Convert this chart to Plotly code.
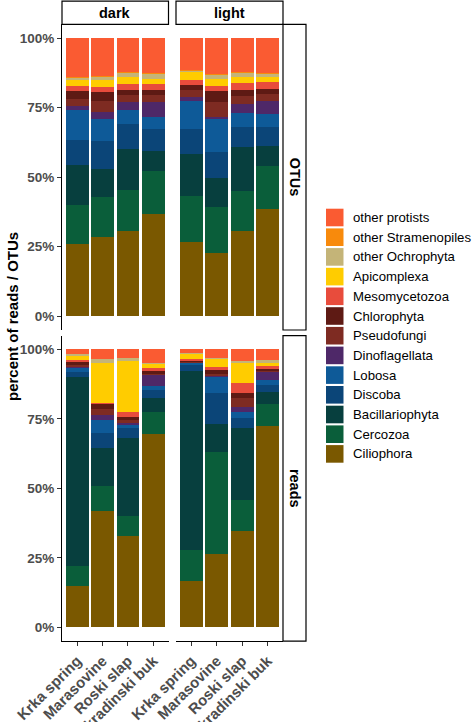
import plotly.graph_objects as go

W, H = 474, 722

sites = ["Krka spring", "Marasovine", "Roski slap", "Skradinski buk"]
conditions = ["dark", "light"]
measures = ["OTUs", "reads"]

# stacking order, bottom -> top
taxa = ["Ciliophora", "Cercozoa", "Bacillariophyta", "Discoba", "Lobosa",
        "Dinoflagellata", "Pseudofungi", "Chlorophyta", "Mesomycetozoa",
        "Apicomplexa", "other Ochrophyta", "other Stramenopiles", "other protists"]

colors = {
    "other protists": "#FA5B32",
    "other Stramenopiles": "#F88A0C",
    "other Ochrophyta": "#C4B478",
    "Apicomplexa": "#FFCC00",
    "Mesomycetozoa": "#E84C3C",
    "Chlorophyta": "#5E1A14",
    "Pseudofungi": "#7E2B22",
    "Dinoflagellata": "#4E2868",
    "Lobosa": "#0E5A98",
    "Discoba": "#0B4578",
    "Bacillariophyta": "#073F3E",
    "Cercozoa": "#0A5E3A",
    "Ciliophora": "#7A5800",
}

otus_dark = {
    "Ciliophora": [25.8, 28.3, 30.6, 36.6],
    "Cercozoa": [14.1, 14.6, 14.7, 15.6],
    "Bacillariophyta": [14.4, 10.2, 14.8, 7.3],
    "Discoba": [9.0, 10.0, 9.2, 7.8],
    "Lobosa": [10.8, 8.0, 4.8, 4.2],
    "Dinoflagellata": [1.4, 2.4, 3.0, 5.6],
    "Pseudofungi": [2.8, 4.0, 2.4, 2.4],
    "Chlorophyta": [2.6, 3.2, 1.8, 1.8],
    "Mesomycetozoa": [1.8, 1.6, 2.4, 2.4],
    "Apicomplexa": [2.2, 2.6, 2.4, 1.6],
    "other Ochrophyta": [1.0, 1.2, 1.4, 2.0],
    "other Stramenopiles": [0.3, 0.3, 0.3, 0.3],
    "other protists": [13.8, 13.6, 12.2, 12.4],
}
otus_light = {
    "Ciliophora": [26.5, 22.8, 30.7, 38.5],
    "Cercozoa": [16.8, 16.5, 14.3, 15.5],
    "Bacillariophyta": [15.2, 10.5, 15.7, 7.3],
    "Discoba": [8.8, 9.3, 7.2, 6.8],
    "Lobosa": [10.0, 12.0, 5.2, 4.6],
    "Dinoflagellata": [1.6, 0.6, 3.2, 4.8],
    "Pseudofungi": [2.6, 5.4, 3.1, 2.6],
    "Chlorophyta": [1.8, 3.9, 1.9, 1.8],
    "Mesomycetozoa": [1.6, 1.7, 2.6, 2.4],
    "Apicomplexa": [3.0, 2.8, 2.2, 1.8],
    "other Ochrophyta": [0.3, 1.2, 1.4, 1.2],
    "other Stramenopiles": [0.3, 0.3, 0.3, 0.3],
    "other protists": [11.5, 13.0, 12.2, 12.4],
}
reads_dark = {
    "Ciliophora": [15.0, 41.8, 33.0, 69.5],
    "Cercozoa": [7.2, 9.0, 7.1, 8.1],
    "Bacillariophyta": [67.9, 13.6, 28.2, 4.8],
    "Discoba": [1.8, 5.4, 3.6, 3.0],
    "Lobosa": [1.8, 5.0, 0.9, 1.5],
    "Dinoflagellata": [0.2, 1.6, 0.8, 3.9],
    "Pseudofungi": [0.6, 2.1, 1.2, 0.8],
    "Chlorophyta": [1.2, 2.3, 1.0, 0.7],
    "Mesomycetozoa": [0.6, 0.1, 1.8, 1.2],
    "Apicomplexa": [1.8, 14.2, 18.6, 1.5],
    "other Ochrophyta": [0.1, 1.4, 0.6, 0.3],
    "other Stramenopiles": [0.0, 0.0, 0.0, 0.0],
    "other protists": [1.8, 3.5, 3.2, 4.7],
}
reads_light = {
    "Ciliophora": [16.8, 26.3, 34.8, 72.4],
    "Cercozoa": [11.0, 36.9, 11.2, 7.9],
    "Bacillariophyta": [64.5, 9.9, 25.9, 4.4],
    "Discoba": [2.1, 11.1, 3.3, 2.5],
    "Lobosa": [1.1, 6.2, 2.4, 2.0],
    "Dinoflagellata": [0.1, 0.3, 1.8, 3.0],
    "Pseudofungi": [0.2, 0.5, 3.0, 0.3],
    "Chlorophyta": [0.3, 1.9, 1.8, 0.6],
    "Mesomycetozoa": [0.5, 0.6, 3.8, 0.9],
    "Apicomplexa": [2.2, 3.2, 7.4, 1.6],
    "other Ochrophyta": [0.1, 0.1, 0.5, 0.6],
    "other Stramenopiles": [0.0, 0.0, 0.0, 0.0],
    "other protists": [1.1, 3.0, 4.1, 3.8],
}

y_ticks = [0, 25, 50, 75, 100]
y_ticktext = ["0%", "25%", "50%", "75%", "100%"]

panels = [  # (data, axis suffix, row, col)
    (otus_dark, "", 0, 0),
    (otus_light, "2", 0, 1),
    (reads_dark, "3", 1, 0),
    (reads_light, "4", 1, 1),
]

# pixel layout
col_px = [(62, 168.5), (176, 283)]
row_px = [(24.4, 330), (335.6, 641.2)]

def px(x):
    return x / W

def py(y):
    return 1 - y / H

fig = go.Figure()
for data, suf, r, c in panels:
    for t in taxa:
        fig.add_trace(go.Bar(
            x=sites, y=data[t], name=t, marker_color=colors[t],
            marker_line_width=0, width=0.9, showlegend=False,
            xaxis="x" + suf, yaxis="y" + suf,
        ))

ytickfont = dict(family="Liberation Sans", size=13.5, color="#4D4D4D", weight="bold")
xtickfont = dict(family="Liberation Sans", size=15, color="#4D4D4D", weight="bold")
layout = dict(
    width=W, height=H, barmode="stack", showlegend=False,
    margin=dict(l=0, r=0, t=0, b=0, pad=0, autoexpand=False),
    paper_bgcolor="white", plot_bgcolor="white",
    font=dict(family="Liberation Sans", color="black"),
)
for data, suf, r, c in panels:
    xa = dict(
        domain=[px(col_px[c][0]), px(col_px[c][1])],
        type="category", categoryarray=sites, categoryorder="array",
        range=[-0.6, 3.6], anchor="y" + suf, automargin=False,
        showgrid=False, zeroline=False, fixedrange=True,
    )
    if r == 1:
        xa.update(showline=True, linecolor="black", linewidth=1.2,
                  ticks="outside", ticklen=4, tickcolor="#333333", tickwidth=1,
                  tickangle=-45, tickfont=xtickfont, showticklabels=True)
    else:
        xa.update(showline=False, ticks="", showticklabels=False)
    ya = dict(
        domain=[py(row_px[r][1]), py(row_px[r][0])],
        range=[-5, 105], anchor="x" + suf, automargin=False,
        showgrid=False, zeroline=False, fixedrange=True,
        tickvals=y_ticks, ticktext=y_ticktext,
    )
    if c == 0:
        ya.update(showline=True, linecolor="black", linewidth=1.2,
                  ticks="outside", ticklen=4, tickcolor="#333333", tickwidth=1,
                  tickfont=ytickfont, showticklabels=True)
    else:
        ya.update(showline=False, ticks="", showticklabels=False)
    layout["xaxis" + suf] = xa
    layout["yaxis" + suf] = ya

shapes = []
annotations = []
strip_font = dict(family="Liberation Sans", size=14.5, color="black", weight="bold")
# top strips
for c, cond in enumerate(conditions):
    x0, x1 = col_px[c]
    shapes.append(dict(type="rect", xref="paper", yref="paper",
                       x0=px(x0), x1=px(x1), y0=py(24.4), y1=py(1.2),
                       line=dict(color="black", width=1.2), fillcolor="white"))
    annotations.append(dict(text=cond, xref="paper", yref="paper",
                            x=px((x0 + x1) / 2), y=py(12.8), showarrow=False,
                            font=strip_font, xanchor="center", yanchor="middle"))
# right strips
for r, m in enumerate(measures):
    y0, y1 = row_px[r]
    shapes.append(dict(type="rect", xref="paper", yref="paper",
                       x0=px(283), x1=px(306), y0=py(y1), y1=py(y0),
                       line=dict(color="black", width=1.2), fillcolor="white"))
    annotations.append(dict(text=m, xref="paper", yref="paper",
                            x=px(294.5), y=py((y0 + y1) / 2), showarrow=False,
                            font=strip_font, textangle=90,
                            xanchor="center", yanchor="middle"))

# y title
annotations.append(dict(text="percent of reads / OTUs", xref="paper", yref="paper",
                        x=px(12), y=py(317), showarrow=False, textangle=-90,
                        font=dict(family="Liberation Sans", size=15, color="black",
                                  weight="bold"),
                        xanchor="center", yanchor="middle"))

# legend (top -> bottom)
legend_order = list(reversed(taxa))
for i, t in enumerate(legend_order):
    yc = 217.5 + i * 19.7
    shapes.append(dict(type="rect", xref="paper", yref="paper",
                       x0=px(326), x1=px(343.5), y0=py(yc + 8.8), y1=py(yc - 8.8),
                       line=dict(width=0), fillcolor=colors[t]))
    annotations.append(dict(text=t, xref="paper", yref="paper",
                            x=px(351), y=py(yc), showarrow=False,
                            xanchor="left", yanchor="middle",
                            font=dict(family="Liberation Sans", size=13.2, color="black")))

layout["shapes"] = shapes
layout["annotations"] = annotations
fig.update_layout(**layout)

fig.write_html("out.html",
               config={"displayModeBar": False},
               post_script="document.body.style.margin='0px';"
                           "document.body.style.overflow='hidden';")
